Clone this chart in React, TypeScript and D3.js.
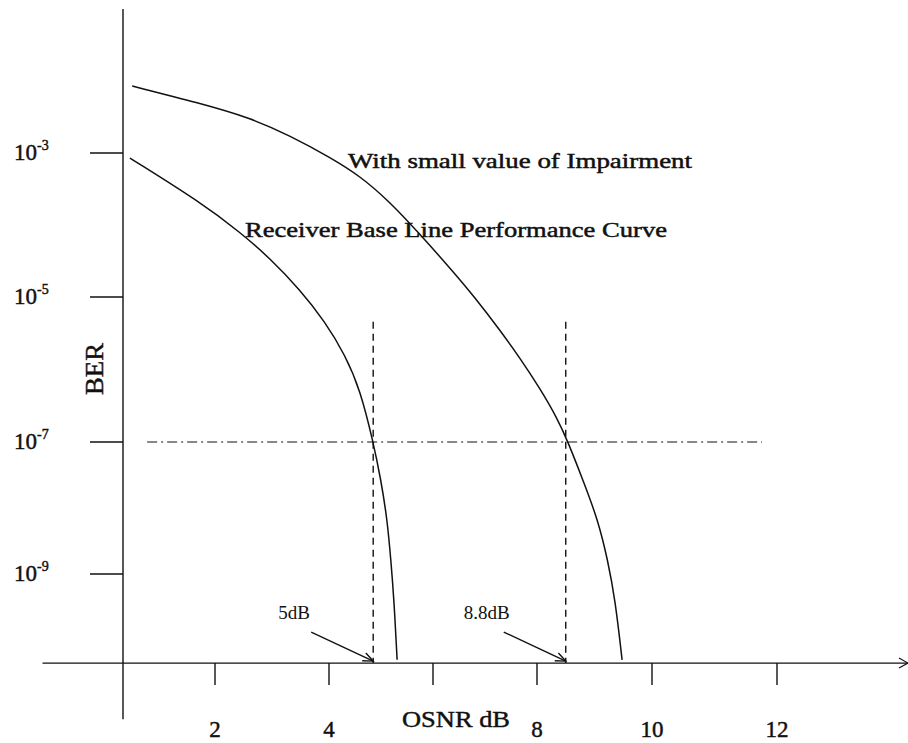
import React from "react";
import * as d3 from "d3";

// ---- data ----
const xTickValues = [2, 4, 6, 8, 10, 12];
const xTickLabels = ["2", "4", "", "8", "10", "12"];
const yTickExponents = [-3, -5, -7, -9];

// Receiver base line performance curve (OSNR dB, log10 BER)
const baselineOsnr = [0.52, 1.74, 2.44, 2.96, 3.49, 3.93, 4.31, 4.6, 4.85, 5.0, 5.12, 5.19, 5.25, 5.31];
const baselineLogBer = [-3.07, -3.68, -4.1, -4.46, -4.9, -5.34, -5.8, -6.28, -7.0, -7.58, -8.18, -8.79, -9.39, -10.3];

// With small value of impairment
const impairOsnr = [0.56, 1.74, 2.61, 3.32, 4.02, 4.6, 5.17, 5.75, 6.33, 6.81, 7.29, 7.67, 8.05, 8.35, 8.54, 8.8, 9.06, 9.23, 9.36, 9.48];
const impairLogBer = [-2.07, -2.31, -2.51, -2.76, -3.06, -3.32, -3.68, -4.13, -4.6, -5.01, -5.46, -5.84, -6.26, -6.67, -7.0, -7.58, -8.18, -8.79, -9.39, -10.3];

const thresholdLogBer = -7;
const thresholdRange = [0.82, 11.76];
const markerOsnr = [4.85, 8.5];
const markerLabels = ["5dB", "8.8dB"];
const markerTopLogBer = -5.34;

// ---- layout ----
const W = 908;
const H = 743;
const FONT = "'Liberation Serif', 'DejaVu Serif', serif";
const INK = "#111";

const x = d3.scaleLinear()
  .domain([0.4, 2, 4, 6, 8, 10, 12, 14.1])
  .range([123, 215, 329, 433, 537, 652, 777, 908]);
const y = d3.scaleLog()
  .domain([1e-3, 1e-5, 1e-7, 1e-9])
  .range([153, 297, 442, 574]);

const AXIS_EXP = -10.35;
const YTOP_EXP = -1;
const YBOT_EXP = -11.2;
const XLEFT = -1.0;

const heavy = { stroke: INK, strokeWidth: 0.45 };

export default function App() {
  const axisY = y(Math.pow(10, AXIS_EXP));
  const axisX = x(0.4);
  const line = d3.line<[number, number]>()
    .x((d) => x(d[0]))
    .y((d) => y(Math.pow(10, d[1])))
    .curve(d3.curveBasis);
  const base = baselineOsnr.map((v, i) => [v, baselineLogBer[i]] as [number, number]);
  const imp = impairOsnr.map((v, i) => [v, impairLogBer[i]] as [number, number]);
  const xEnd = x(14.1);

  return (
    <svg width={W} height={H} style={{ position: "absolute", left: 0, top: 0, background: "#fff" }} fontFamily={FONT}>
      <rect width={W} height={H} fill="#fff" />
      {/* y axis */}
      <line x1={axisX} x2={axisX} y1={y(Math.pow(10, YTOP_EXP))} y2={y(Math.pow(10, YBOT_EXP))} stroke={INK} strokeWidth={1.4} />
      {/* x axis */}
      <line x1={x(XLEFT)} x2={xEnd} y1={axisY} y2={axisY} stroke={INK} strokeWidth={1.4} />
      <path d={`M${xEnd - 9},${axisY - 5}L${xEnd},${axisY}L${xEnd - 9},${axisY + 5}`} fill="none" stroke={INK} strokeWidth={1.2} />

      {/* y ticks */}
      {yTickExponents.map((e) => {
        const yy = y(Math.pow(10, e));
        return (
          <g key={e}>
            <line x1={axisX - 33} x2={axisX} y1={yy} y2={yy} stroke={INK} strokeWidth={1.6} />
            <text x={14} y={yy + 7} fontSize={23} fill={INK} {...heavy}>
              10
              <tspan fontSize={14} dy={-10}>{`-${-e}`}</tspan>
            </text>
          </g>
        );
      })}

      {/* x ticks */}
      {xTickValues.map((v, i) => (
        <g key={v}>
          <line x1={x(v)} x2={x(v)} y1={axisY} y2={axisY + 22} stroke={INK} strokeWidth={1.4} />
          {xTickLabels[i] && (
            <text x={x(v)} y={737} fontSize={23} textAnchor="middle" fill={INK} {...heavy}>{xTickLabels[i]}</text>
          )}
        </g>
      ))}

      {/* axis titles */}
      <text x={456} y={727} fontSize={24} textAnchor="middle" textLength={108} lengthAdjust="spacingAndGlyphs" fill={INK} {...heavy}>OSNR dB</text>
      <text transform="translate(103,369) rotate(-90)" fontSize={26} textAnchor="middle" textLength={52} lengthAdjust="spacingAndGlyphs" fill={INK} {...heavy}>BER</text>

      {/* threshold dash-dot */}
      <line x1={x(thresholdRange[0])} x2={x(thresholdRange[1])} y1={y(Math.pow(10, thresholdLogBer))} y2={y(Math.pow(10, thresholdLogBer))}
        stroke={INK} strokeWidth={1.2} strokeDasharray="10,4,2,4" />

      {/* marker dashed verticals, arrows, labels */}
      {markerOsnr.map((m, i) => {
        const mx = x(m);
        const tipY = axisY - 2;
        const tailX = mx - 62;
        const tailY = tipY - 29;
        const ang = Math.atan2(tipY - tailY, mx - tailX);
        const hl = 11;
        const a1 = ang + Math.PI - 0.4;
        const a2 = ang + Math.PI + 0.4;
        return (
          <g key={m}>
            <line x1={mx} x2={mx} y1={y(Math.pow(10, markerTopLogBer))} y2={axisY} stroke={INK} strokeWidth={1.4} strokeDasharray="7,5" />
            <line x1={tailX} y1={tailY} x2={mx} y2={tipY} stroke={INK} strokeWidth={1.4} />
            <path d={`M${mx + hl * Math.cos(a1)},${tipY + hl * Math.sin(a1)}L${mx},${tipY}L${mx + hl * Math.cos(a2)},${tipY + hl * Math.sin(a2)}`} fill="none" stroke={INK} strokeWidth={1.4} />
            <text x={tailX - 17} y={tailY - 13} fontSize={19} textAnchor="middle" fill={INK}>{markerLabels[i]}</text>
          </g>
        );
      })}

      {/* curves */}
      <path d={line(base) || ""} fill="none" stroke={INK} strokeWidth={1.5} />
      <path d={line(imp) || ""} fill="none" stroke={INK} strokeWidth={1.5} />

      {/* curve labels */}
      <text x={348} y={168} fontSize={20} textLength={344} lengthAdjust="spacingAndGlyphs" fill={INK} {...heavy}>With small value of Impairment</text>
      <text x={245} y={237} fontSize={20} textLength={422} lengthAdjust="spacingAndGlyphs" fill={INK} {...heavy}>Receiver Base Line Performance Curve</text>
    </svg>
  );
}
